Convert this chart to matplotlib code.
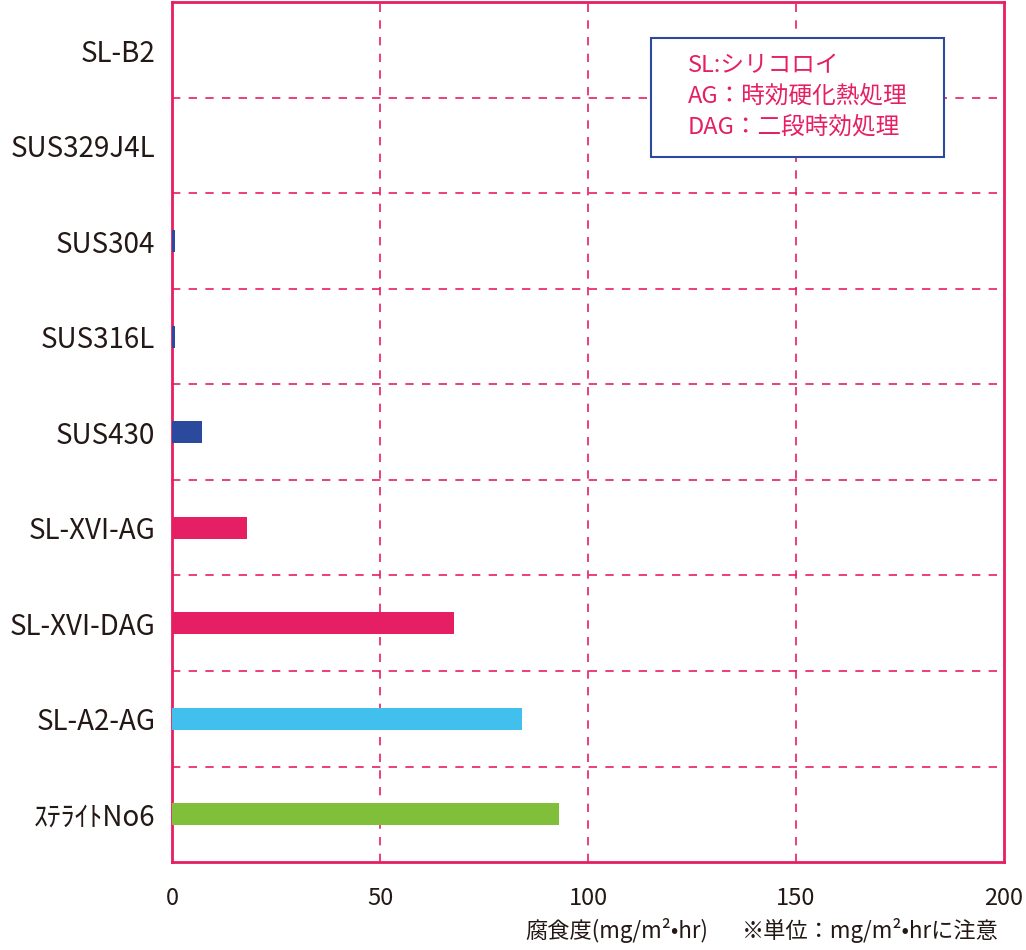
import matplotlib.pyplot as plt
from matplotlib.patches import Rectangle

plt.rcParams['font.family'] = ['Noto Sans CJK JP', 'DejaVu Sans']

# data (mg/m2・hr), top to bottom
labels = ['SL-B2', 'SUS329J4L', 'SUS304', 'SUS316L', 'SUS430',
          'SL-XVI-AG', 'SL-XVI-DAG', 'SL-A2-AG', 'ｽﾃﾗｲﾄNo6']
values = [0, 0, 0.7, 0.8, 7.2, 18, 67.8, 84.2, 93]
colors = ['#2b4a9e', '#2b4a9e', '#2b4a9e', '#2b4a9e', '#2b4a9e',
          '#e61e64', '#e61e64', '#41bfed', '#80bf3a']
xticks = [0, 50, 100, 150, 200]
notes = ['SL:シリコロイ', 'AG：時効硬化熱処理', 'DAG：二段時効処理']

pink = '#e61e64'
txt = '#231815'

fig = plt.figure(figsize=(10.26, 9.5), dpi=100)
ax = fig.add_axes([0.1676, 0.0926, 0.811, 0.905])

ypos = list(range(len(labels)))
ax.barh(ypos, values, height=0.23, color=colors, zorder=3)

ax.set_xlim(0, 200)
ax.set_ylim(len(labels) - 0.5, -0.5)

# dashed grid: vertical at 50/100/150, horizontal between rows
for v in xticks[1:-1]:
    ax.axvline(v, color=pink, lw=1.2, ls=(0, (5, 5)), zorder=1)
for i in range(len(labels) - 1):
    ax.axhline(i + 0.5, color=pink, lw=1.2, ls=(0, (5, 5)), zorder=1)

for s in ax.spines.values():
    s.set_color(pink)
    s.set_linewidth(2)

ax.set_yticks(ypos)
ax.set_yticklabels(labels, fontsize=20, color=txt)
ax.set_xticks(xticks)
ax.set_xticklabels([str(t) for t in xticks], fontsize=17, color=txt)
ax.tick_params(length=0, pad=12)
ax.tick_params(axis='x', pad=18)

# notes box
ax.add_patch(Rectangle((0.576, 0.820), 0.352, 0.139, transform=ax.transAxes,
                       fc='white', ec='#2b4a9e', lw=1.5, zorder=5))
for k, s in enumerate(notes):
    ax.text(0.620, 0.926 - k * 0.0355, s, transform=ax.transAxes,
            fontsize=17, color=pink, va='center', ha='left', zorder=6)

fig.text(0.601, 0.021, '腐食度(mg/m²•hr)', fontsize=16, color=txt,
         ha='center', va='center')
fig.text(0.848, 0.021, '※単位：mg/m²•hrに注意', fontsize=16, color=txt,
         ha='center', va='center')

plt.savefig('out.png', dpi=100)
